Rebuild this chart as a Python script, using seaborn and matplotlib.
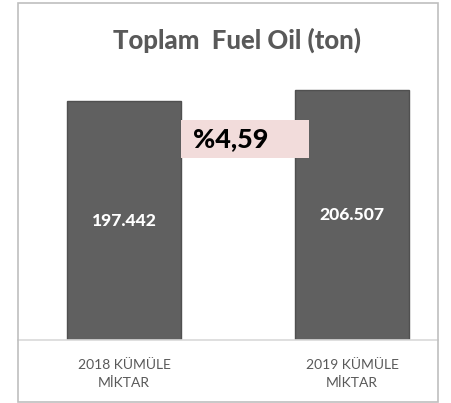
import matplotlib
matplotlib.use("Agg")
import matplotlib.pyplot as plt
import seaborn as sns
import pandas as pd
from matplotlib.patches import Rectangle

categories = ["2018 KÜMÜLE\nMİKTAR", "2019 KÜMÜLE\nMİKTAR"]
values = [197442, 206507]
value_labels = ["197.442", "206.507"]
title = "Toplam  Fuel Oil (ton)"
change_label = "%4,59"

sns.set_theme(style="white")
plt.rcParams['font.family'] = ['Lato', 'DejaVu Sans']

W, H = 451, 403
fig = plt.figure(figsize=(W / 100, H / 100), dpi=100)

def fx(px):
    return px / W

def fy(py):
    return 1 - py / H

# outer frame
fig.patches.append(Rectangle((fx(17.5), fy(401.5)), fx(438) - fx(17.5), fy(3) - fy(401.5),
                             transform=fig.transFigure, fill=False, edgecolor="#BFBFBF", lw=1.2))

ax_top, ax_bot = 37, 340
ax = fig.add_axes([fx(18), fy(ax_bot), fx(438) - fx(18), fy(ax_top) - fy(ax_bot)])
df = pd.DataFrame({"cat": categories, "val": values})
sns.barplot(data=df, x="cat", y="val", order=categories, color="#606060", width=0.504,
            edgecolor="#505050", linewidth=1.0, saturation=1, ax=ax)
ax.set_xlim(-0.465, 1.377)
ax.set_ylim(0, 250000)
ax.set_yticks([])
ax.set_xlabel("")
ax.set_ylabel("")
for s in ["left", "right", "top"]:
    ax.spines[s].set_visible(False)
ax.spines["bottom"].set_color("#D9D9D9")
ax.spines["bottom"].set_linewidth(1.2)
ax.tick_params(axis="x", length=0, pad=14, labelsize=10, labelcolor="#595959")
for t in ax.get_xticklabels():
    t.set_linespacing(1.55)
ax.patch.set_alpha(0)

label_y = [221, 215]
for i, (lab, py) in enumerate(zip(value_labels, label_y)):
    fig.text(fx(124 + i * 228), fy(py), lab, ha="center", va="center",
             color="white", fontsize=12.6, fontweight=900)

fig.text(fx(237), fy(40), title, ha="center", va="center", color="#595959",
         fontsize=18.5, fontweight=900)

fig.patches.append(Rectangle((fx(181), fy(158)), fx(309) - fx(181), fy(120) - fy(158),
                             transform=fig.transFigure, facecolor="#F2DCDB", edgecolor="none"))
fig.text(fx(231), fy(139), change_label, ha="center", va="center", color="black",
         fontsize=19.4, fontweight=900)

fig.savefig("out.png", dpi=100)
